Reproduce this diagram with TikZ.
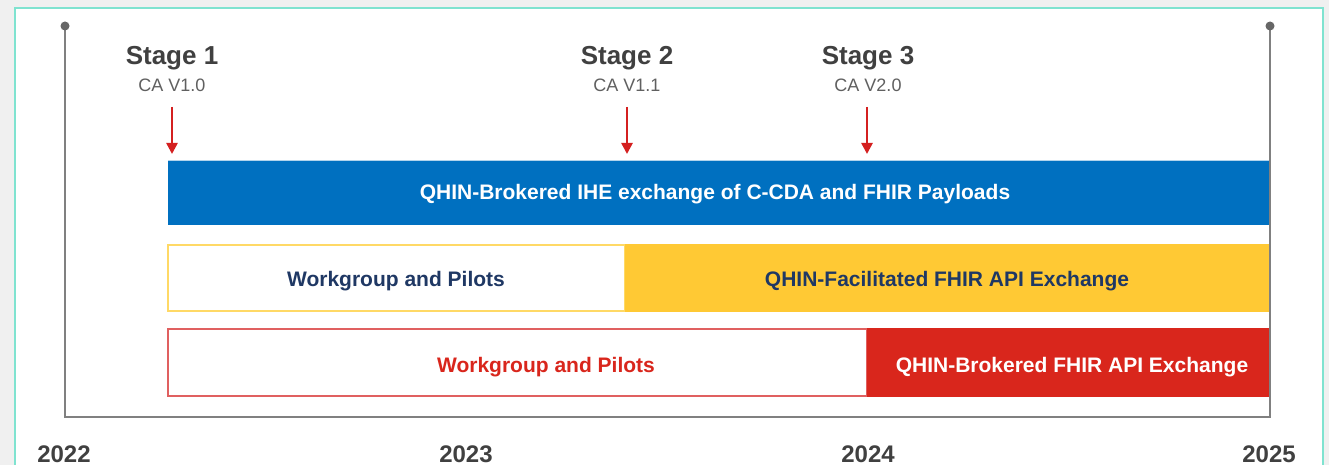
\documentclass[tikz,border=0pt]{standalone}
\usepackage{fontspec}
\setmainfont{Liberation Sans}
\usetikzlibrary{arrows.meta}
\definecolor{bgout}{HTML}{F0F0F0}
\definecolor{teal}{HTML}{7FE3D0}
\definecolor{axisgray}{HTML}{808080}
\definecolor{dotgray}{HTML}{666666}
\definecolor{labgray}{HTML}{404040}
\definecolor{cagray}{HTML}{606060}
\definecolor{qblue}{HTML}{0070C0}
\definecolor{qyellow}{HTML}{FFC934}
\definecolor{qyellowline}{HTML}{FFD966}
\definecolor{qred}{HTML}{D9261C}
\definecolor{qredline}{HTML}{E06060}
\definecolor{navy}{HTML}{1F3864}
\definecolor{arrred}{HTML}{D42020}
\tikzset{
  stagelab/.style={font=\fontsize{26}{26}\selectfont\bfseries, text=labgray, anchor=base, inner sep=0pt},
  calab/.style={font=\fontsize{18}{18}\selectfont, text=cagray, anchor=base, inner sep=0pt},
  yearlab/.style={font=\fontsize{24}{24}\selectfont\bfseries, text=labgray, anchor=base, inner sep=0pt},
  bartext/.style={font=\fontsize{21}{21}\selectfont\bfseries, anchor=base, inner sep=0pt},
  arr/.style={draw=arrred, line width=2.5pt, -{Triangle[length=11pt,width=11pt]}},
  axis/.style={draw=axisgray, line width=2.4pt},
  dot/.style={circle, fill=dotgray, inner sep=0pt, minimum size=9pt}
}
\begin{document}
\begin{tikzpicture}[x=1pt,y=-1pt]
\useasboundingbox (0,0) rectangle (1329,465);
\fill[bgout] (0,0) rectangle (1329,465);
\begin{scope}
\clip (0,0) rectangle (1329,465);
\draw[teal, line width=2pt, fill=white] (15,8) rectangle (1323,475);
\end{scope}

% bars
\fill[qblue] (168,160) rectangle (1270,225);
\draw[white!70!qblue, line width=1pt] (168,160.5) -- (1270,160.5);
\node[bartext, text=white] (blue) at (715,200) {QHIN-Brokered IHE exchange of C-CDA and FHIR Payloads};

\draw[qyellowline, line width=1.5pt, fill=white] (168,245) rectangle (625,311);
\fill[qyellow] (625,244.25) rectangle (1270,311.75);
\node[bartext, text=navy] (ywp) at (396,286) {Workgroup and Pilots};
\node[bartext, text=navy] (yfac) at (947,286) {QHIN-Facilitated FHIR API Exchange};

\draw[qredline, line width=1.5pt, fill=white] (168,329) rectangle (867,396);
\fill[qred] (867,328.25) rectangle (1270,396.75);
\node[bartext, text=qred] (rwp) at (546,372) {Workgroup and Pilots};
\node[bartext, text=white] (rbro) at (1072,372) {QHIN-Brokered FHIR API Exchange};

% axis
\coordinate (tl) at (65,26);
\coordinate (bl) at (65,417);
\coordinate (br) at (1270,417);
\coordinate (tr) at (1270,26);
\draw[axis] (tl) -- (bl) -- (br) -- (tr);
\node[dot] (dl) at (tl) {};
\node[dot] (dr) at (tr) {};

% stages
\node[stagelab] (s1) at (172,65) {Stage 1};
\node[calab] (c1) at (172,92) {CA V1.0};
\node[stagelab] (s2) at (627,65) {Stage 2};
\node[calab] (c2) at (627,92) {CA V1.1};
\node[stagelab] (s3) at (868,65) {Stage 3};
\node[calab] (c3) at (868,92) {CA V2.0};

\coordinate (a1s) at (172,107); \coordinate (a1e) at (172,154);
\coordinate (a2s) at (627,107); \coordinate (a2e) at (627,154);
\coordinate (a3s) at (867,107); \coordinate (a3e) at (867,154);
\draw[arr] (a1s) -- (a1e);
\draw[arr] (a2s) -- (a2e);
\draw[arr] (a3s) -- (a3e);

% years
\node[yearlab] (y22) at (64,462) {2022};
\node[yearlab] (y23) at (466,462) {2023};
\node[yearlab] (y24) at (868,462) {2024};
\node[yearlab] (y25) at (1269,462) {2025};
\end{tikzpicture}
\end{document}
